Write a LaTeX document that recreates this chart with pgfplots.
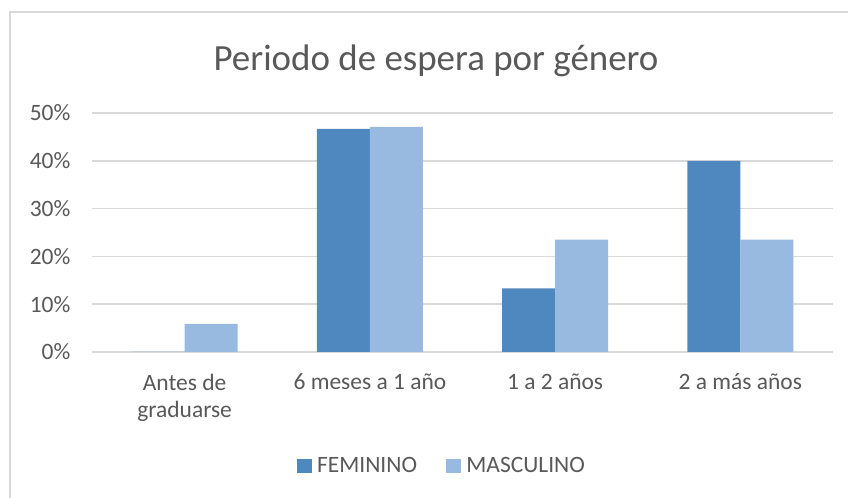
\documentclass[border=0pt]{standalone}
\usepackage{pgfplots}
\pgfplotsset{compat=1.18}
\usepackage{fontspec}
\setmainfont{Carlito}
\definecolor{fem}{HTML}{4E88BE}
\definecolor{masc}{HTML}{98B9E0}
\definecolor{txt}{HTML}{595959}
\definecolor{grd}{HTML}{D9D9D9}
\begin{document}
\begin{tikzpicture}[x=0.75pt,y=0.75pt]
\useasboundingbox (0,0) rectangle (848,498);
\fill[white] (0,0) rectangle (848,498);
\draw[grd, line width=1.5pt] (10,-2) -- (10,486) -- (850,486);
\node[txt, font=\fontsize{27.7}{30}\selectfont] at (436,437) {Periodo de espera por género};
\begin{axis}[
  at={(92pt*0.75,146pt*0.75)}, anchor=south west, scale only axis,
  width=555.75pt, height=179.25pt,
  xmin=-0.5, xmax=3.5, ymin=0, ymax=50,
  ytick={0,10,...,50},
  yticklabel={\pgfmathprintnumber{\tick}\%},
  /pgf/number format/assume math mode=true,
  xtick={0,1,2,3},
  xticklabels={{Antes de\\graduarse},{6 meses a 1 año},{1 a 2 años},{2 a más años}},
  major tick length=0pt,
  axis line style={draw=none},
  ymajorgrids, grid style={grd, line width=1.1pt},
  tick label style={txt, font=\fontsize{17.6}{20.5}\selectfont},
  yticklabel style={anchor=east, inner sep=0pt, xshift=-16pt},
  xticklabel style={align=center, anchor=north, inner sep=0pt, yshift=-16.2pt},
  ybar, bar width=0.286,
  legend columns=2,
  legend style={at={(0.471,-0.477)}, anchor=center, draw=none, fill=none,
    font=\fontsize{17.6}{20.5}\selectfont, text=txt,
    nodes={inner sep=0pt},
    /tikz/every odd column/.append style={column sep=4pt},
    /tikz/every even column/.append style={column sep=22pt}},
  legend image code/.code={\fill[#1] (0pt,-4.9pt) rectangle (11pt,4.9pt);},
]
\addplot[fill=fem, draw=none, bar shift=-0.143] coordinates {(0,0) (1,46.7) (2,13.3) (3,40.0)};
\addplot[fill=masc, draw=none, bar shift=0.143] coordinates {(0,5.9) (1,47.1) (2,23.5) (3,23.5)};
\legend{FEMININO, MASCULINO}
\end{axis}
\end{tikzpicture}
\end{document}
